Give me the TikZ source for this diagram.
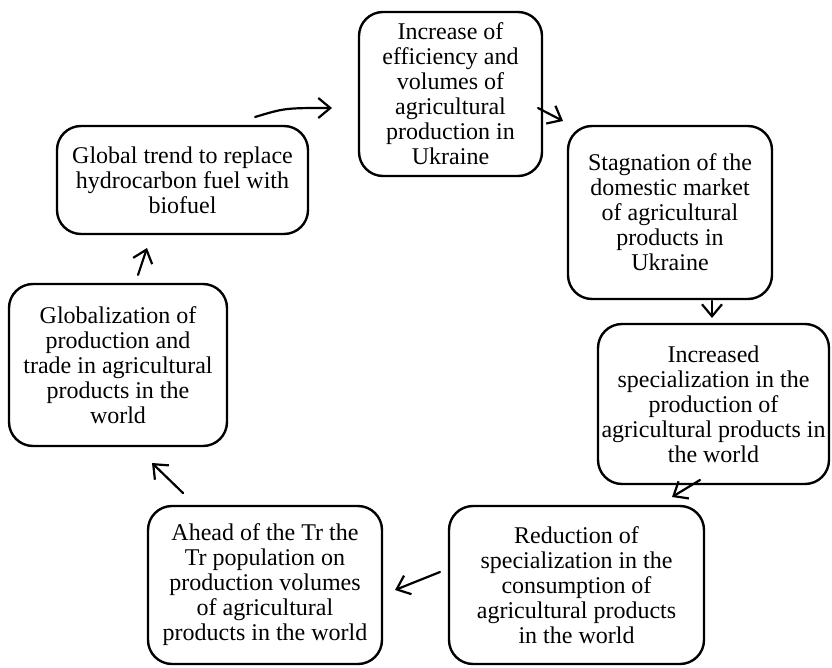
\documentclass[tikz,border=0pt]{standalone}
\usepackage{fontspec}
\setmainfont{Liberation Serif}
\usetikzlibrary{arrows.meta}
\begin{document}
\begin{tikzpicture}[x=1pt,y=-1pt,
  box/.style={draw, line width=2.4pt, rounded corners=24pt, align=center, inner sep=0pt,
    font=\fontsize{24}{25}\selectfont},
  arr/.style={line width=2.2pt, line cap=round, -{Straight Barb[length=12pt,width=20pt]}}]
\useasboundingbox (0,0) rectangle (832,668);
\fill[white] (0,0) rectangle (832,668);
\node[box, minimum width=183pt, minimum height=164pt] (b1) at (450.5,94)
  {Increase of\\efficiency and\\volumes of\\agricultural\\production in\\Ukraine};
\node[box, minimum width=204pt, minimum height=173pt] (b2) at (670,212.5)
  {Stagnation of the\\domestic market\\of agricultural\\products in\\Ukraine};
\node[box, minimum width=231pt, minimum height=160pt] (b3) at (713.5,404)
  {Increased\\specialization in the\\production of\\agricultural products in\\the world};
\node[box, minimum width=255pt, minimum height=158pt] (b4) at (576.5,585)
  {Reduction of\\specialization in the\\consumption of\\agricultural products\\in the world};
\node[box, minimum width=234pt, minimum height=158pt] (b5) at (265,585)
  {Ahead of the Tr the\\Tr population on\\production volumes\\of agricultural\\products in the world};
\node[box, minimum width=218pt, minimum height=162pt] (b6) at (118,365)
  {Globalization of\\production and\\trade in agricultural\\products in the\\world};
\node[box, minimum width=251pt, minimum height=108pt] (b7) at (182.5,180)
  {Global trend to replace\\hydrocarbon fuel with\\biofuel};
\coordinate (a1s) at (255,117); \coordinate (a1e) at (332,108);
\coordinate (a2s) at (538,108); \coordinate (a2e) at (563,121);
\coordinate (a3s) at (712,301); \coordinate (a3e) at (712,318);
\coordinate (a4s) at (700,480); \coordinate (a4e) at (672,497);
\coordinate (a5s) at (440,572); \coordinate (a5e) at (395,590);
\coordinate (a6s) at (183,493); \coordinate (a6e) at (152,463);
\coordinate (a7s) at (138,275); \coordinate (a7e) at (147,248);
\draw[arr] (a1s) .. controls (285,108) .. (a1e);
\draw[arr] (a2s) -- (a2e);
\draw[arr] (a3s) -- (a3e);
\draw[arr] (a4s) -- (a4e);
\draw[arr] (a5s) -- (a5e);
\draw[arr] (a6s) -- (a6e);
\draw[arr] (a7s) -- (a7e);
\end{tikzpicture}
\end{document}
